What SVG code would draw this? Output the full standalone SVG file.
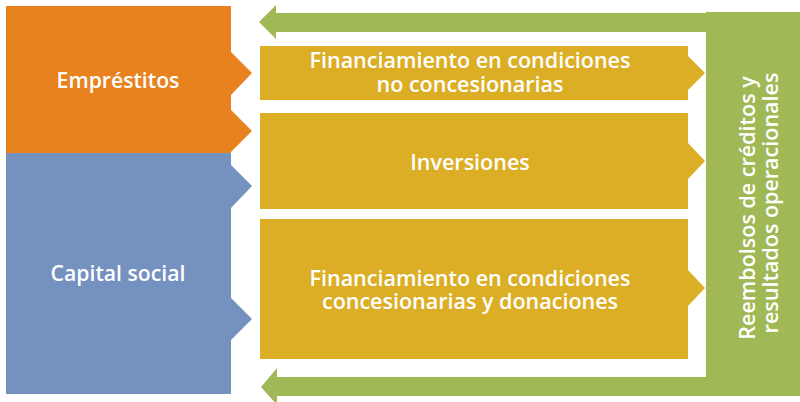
<svg xmlns="http://www.w3.org/2000/svg" width="800" height="402" viewBox="0 0 800 402">
<style>
text{font-family:"Open Sans","Noto Sans","Liberation Sans",sans-serif;fill:#ffffff;text-anchor:middle;font-weight:600}
.big{font-size:21.2px}
.mid{font-size:21.5px}
.orange{fill:#E8821E}
.blue{fill:#7491C0}
.yellow{fill:#DCAE26}
.green{fill:#A0B856}
</style>
<rect width="800" height="402" fill="#ffffff"/>
<g id="connectors">
<rect class="green" x="706" y="12" width="94" height="384"/>
<polygon class="green" points="706,13 706,32 276,32 276,39 259,22 276,5 276,13"/>
<polygon class="green" points="706,377 706,396 277,396 277,405 261,387 277,368 277,377"/>
</g>
<g id="emprestitos">
<polygon class="orange" points="6,6 231,6 231,52 252,73 231,95 231,110 252,131 231,152 231,153 6,153"/>
<text class="big" x="118" y="88">Empréstitos</text>
</g>
<g id="capital">
<polygon class="blue" points="6,153 231,153 231,165 252,186 231,208 231,298 252,319 231,340 231,394 6,394"/>
<text class="big" x="118" y="281">Capital social</text>
</g>
<g id="fin-no-conc">
<polygon class="yellow" points="260,46 688,46 688,56 705,73 688,90 688,100 260,100"/>
<text class="mid" x="470" y="68">Financiamiento en condiciones</text>
<text class="mid" x="470" y="92">no concesionarias</text>
</g>
<g id="inversiones">
<polygon class="yellow" points="260,113 688,113 688,143 705,161 688,179 688,209 260,209"/>
<text class="mid" x="470" y="170">Inversiones</text>
</g>
<g id="fin-conc">
<polygon class="yellow" points="260,219 688,219 688,270 705,288 688,306 688,359 260,359"/>
<text class="mid" x="470" y="286">Financiamiento en condiciones</text>
<text class="mid" x="470" y="309">concesionarias y donaciones</text>
</g>
<g id="reembolsos">
<text class="mid" transform="translate(755,208) rotate(-90)">Reembolsos de créditos y</text>
<text class="mid" transform="translate(778,203) rotate(-90)">resultados operacionales</text>
</g>
</svg>
